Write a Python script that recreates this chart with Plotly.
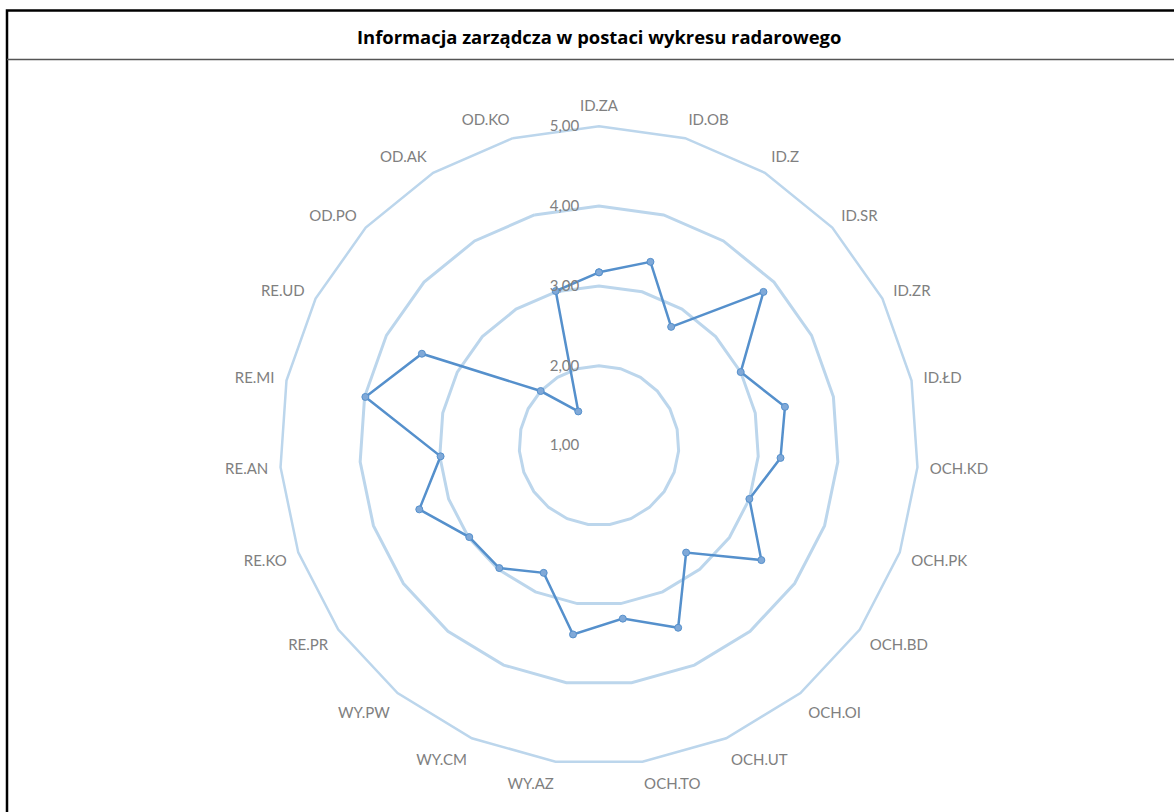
import plotly.graph_objects as go

categories = ["ID.ZA", "ID.OB", "ID.Z", "ID.SR", "ID.ZR", "ID.ŁD",
              "OCH.KD", "OCH.PK", "OCH.BD", "OCH.OI", "OCH.UT", "OCH.TO",
              "WY.AZ", "WY.CM", "WY.PW",
              "RE.PR", "RE.KO", "RE.AN", "RE.MI", "RE.UD",
              "OD.PO", "OD.AK", "OD.KO"]
values = [3.17, 3.39, 2.74, 3.82, 3.00, 3.38,
          3.28, 3.00, 3.49, 2.73, 3.49, 3.19,
          3.39, 2.74, 2.98,
          2.99, 3.39, 2.99, 3.99, 3.50,
          2.00, 1.50, 3.01]
radial_ticks = [1, 2, 3, 4, 5]
radial_ticktext = ["1,00", "2,00", "3,00", "4,00", "5,00"]
title_text = "Informacja zarządcza w postaci wykresu radarowego"

W, H = 1174, 812
cx, cy, R = 599, 445.5, 319.2

grid_col = "#BCD6EC"
line_col = "#5590CC"
txt_col = "#808080"
FONT = "Lato, 'Open Sans', sans-serif"

fig = go.Figure()
fig.add_trace(go.Scatterpolar(
    r=values + values[:1],
    theta=categories + categories[:1],
    mode="lines+markers",
    line=dict(color=line_col, width=2.5),
    marker=dict(size=7, color="#80A9D8", line=dict(color=line_col, width=1)),
    showlegend=False,
    hoverinfo="r+theta",
))

fig.update_layout(
    width=W, height=H,
    margin=dict(l=0, r=0, t=0, b=0),
    paper_bgcolor="white",
    plot_bgcolor="white",
    font=dict(family=FONT, color=txt_col, size=15),
    polar=dict(
        domain=dict(x=[(cx - R) / W, (cx + R) / W],
                    y=[(H - cy - R) / H, (H - cy + R) / H]),
        bgcolor="white",
        gridshape="linear",
        radialaxis=dict(
            range=[1, 5],
            tickvals=radial_ticks,
            ticktext=radial_ticktext,
            showgrid=True,
            gridcolor=grid_col,
            gridwidth=2.5,
            showline=False,
            ticks="outside",
            ticklen=14,
            tickcolor="rgba(0,0,0,0)",
            angle=90,
            tickangle=90,
            side="counterclockwise",
            tickfont=dict(size=15, color=txt_col),
        ),
        angularaxis=dict(
            direction="clockwise",
            rotation=90,
            showgrid=False,
            showline=True,
            linecolor=grid_col,
            linewidth=2.5,
            ticks="outside",
            ticklen=8,
            tickcolor="rgba(0,0,0,0)",
            tickfont=dict(size=15, color=txt_col),
        ),
    ),
    annotations=[dict(
        text="<b>" + title_text + "</b>",
        x=cx / W, y=1 - 37 / H, xref="paper", yref="paper",
        xanchor="center", yanchor="middle", showarrow=False,
        font=dict(size=18.4, color="black", family="'Open Sans', Lato, sans-serif"),
    )],
    shapes=[
        dict(type="rect", xref="paper", yref="paper",
             x0=7 / W, x1=1.01, y0=-0.01, y1=1 - 10.5 / H,
             line=dict(color="black", width=2.5), fillcolor="rgba(0,0,0,0)"),
        dict(type="line", xref="paper", yref="paper",
             x0=7 / W, x1=1.01, y0=1 - 59.5 / H, y1=1 - 59.5 / H,
             line=dict(color="#555555", width=1.5)),
    ],
)

fig.write_html("out.html", config={"displayModeBar": False},
               post_script="document.body.style.margin='0';document.body.style.overflow='hidden';")
